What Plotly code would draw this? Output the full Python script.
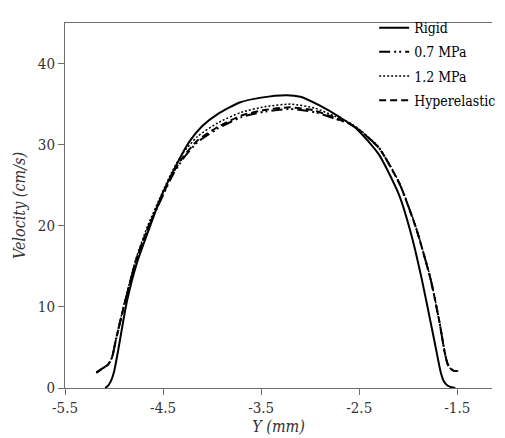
import plotly.graph_objects as go

# ---- data ----
rigid_x = [-5.09, -5.06, -5.03, -5.00, -4.96, -4.87, -4.77, -4.64, -4.53, -4.36, -4.23, -4.10,
           -3.94, -3.72, -3.50, -3.24, -3.10, -2.90, -2.70, -2.53, -2.30, -2.09, -1.96, -1.86,
           -1.77, -1.72, -1.67, -1.64, -1.60, -1.56, -1.52]
rigid_y = [0.0, 0.3, 0.9, 2.0, 4.5, 10.6, 15.3, 19.7, 23.3, 27.6, 30.4, 32.3,
           33.8, 35.2, 35.8, 36.1, 35.9, 34.8, 33.4, 32.0, 28.8, 23.7, 18.5, 13.3,
           8.0, 5.0, 2.0, 0.9, 0.3, 0.1, 0.0]

e07_x = [-5.18, -5.12, -5.06, -5.02, -4.98, -4.89, -4.78, -4.66, -4.53, -4.40, -4.30, -4.15,
         -3.94, -3.70, -3.45, -3.20, -2.95, -2.75, -2.60, -2.50, -2.30, -2.09, -1.92, -1.77,
         -1.68, -1.63, -1.60, -1.57, -1.53, -1.48]
e07_y = [1.9, 2.4, 2.9, 3.8, 6.0, 10.5, 15.5, 19.5, 23.0, 26.3, 28.2, 30.3,
         32.0, 33.4, 34.1, 34.4, 34.0, 33.2, 32.6, 31.8, 29.6, 25.2, 19.7, 13.3,
         8.0, 4.5, 3.0, 2.4, 2.1, 2.1]

e12_x = [-5.18, -5.12, -5.06, -5.02, -4.98, -4.89, -4.78, -4.66, -4.53, -4.40, -4.30, -4.15,
         -3.94, -3.70, -3.45, -3.20, -2.95, -2.75, -2.60, -2.50, -2.30, -2.09, -1.92, -1.77,
         -1.68, -1.63, -1.60, -1.57, -1.53, -1.48]
e12_y = [1.9, 2.4, 2.9, 3.8, 6.1, 10.7, 15.8, 19.9, 23.5, 26.9, 28.9, 31.0,
         32.7, 34.0, 34.7, 35.0, 34.5, 33.5, 32.7, 31.9, 29.7, 25.3, 19.8, 13.4,
         8.1, 4.6, 3.0, 2.4, 2.1, 2.1]

hyp_x = [-5.18, -5.12, -5.06, -5.02, -4.98, -4.89, -4.78, -4.66, -4.53, -4.40, -4.30, -4.15,
         -3.94, -3.70, -3.45, -3.20, -2.95, -2.75, -2.60, -2.50, -2.30, -2.09, -1.92, -1.77,
         -1.68, -1.63, -1.60, -1.57, -1.53, -1.48]
hyp_y = [1.9, 2.4, 2.9, 3.8, 6.0, 10.5, 15.6, 19.6, 23.1, 26.5, 28.4, 30.5,
         32.2, 33.6, 34.3, 34.6, 34.2, 33.3, 32.6, 31.8, 29.6, 25.2, 19.7, 13.3,
         8.0, 4.5, 3.0, 2.4, 2.1, 2.1]

series_names = ["Rigid", "0.7 MPa", "1.2 MPa", "Hyperelastic"]
x_ticks = [-5.5, -4.5, -3.5, -2.5, -1.5]
x_tick_labels = ["-5.5", "-4.5", "-3.5", "-2.5", "-1.5"]
y_ticks = [0, 10, 20, 30, 40]

FONT = "DejaVu Serif Condensed, DejaVu Serif"
AX = "#6e6e6e"

fig = go.Figure()
fig.add_trace(go.Scatter(x=rigid_x, y=rigid_y, mode="lines", name=series_names[0],
                         legendgroup="g1",
                         line=dict(color="black", width=2, shape="spline", smoothing=0.6)))
fig.add_trace(go.Scatter(x=e07_x, y=e07_y, mode="lines", name=series_names[1],
                         legendgroup="g2",
                         line=dict(color="black", width=2, dash="11px,4px,2px,3px,2px,4px",
                                   shape="spline", smoothing=0.6)))
fig.add_trace(go.Scatter(x=e12_x, y=e12_y, mode="lines", name=series_names[2],
                         legendgroup="g3",
                         line=dict(color="black", width=1.5, dash="2px,2px",
                                   shape="spline", smoothing=0.6)))
fig.add_trace(go.Scatter(x=hyp_x, y=hyp_y, mode="lines", name=series_names[3],
                         legendgroup="g4",
                         line=dict(color="black", width=2, dash="7px,4px",
                                   shape="spline", smoothing=0.6)))

# the page body keeps its default 8px margin, so the figure is 8px smaller
fig.update_layout(
    width=497, height=430,
    margin=dict(l=57, r=12, t=4, b=50),
    paper_bgcolor="white", plot_bgcolor="white",
    font=dict(family=FONT, size=15, color="#222"),
    showlegend=True,
    legend=dict(x=0.724, xanchor="left", y=1.03, yanchor="top",
                bgcolor="rgba(0,0,0,0)", borderwidth=0,
                font=dict(family=FONT, size=14, color="black"),
                traceorder="grouped", tracegroupgap=3),
    xaxis=dict(range=[-5.5, -1.146], tickvals=x_ticks, ticktext=x_tick_labels,
               showgrid=False, zeroline=False,
               showline=True, linecolor=AX, linewidth=1, mirror=True,
               ticks="outside", ticklen=6, tickcolor=AX,
               tickfont=dict(family=FONT, size=15, color="#333"),
               title=dict(text="<i>Y (mm)</i>", font=dict(family=FONT, size=16, color="#333"),
                          standoff=0)),
    yaxis=dict(range=[0, 45], tickvals=y_ticks,
               showgrid=False, zeroline=False,
               showline=True, linecolor=AX, linewidth=1,
               ticks="outside", ticklen=6, tickcolor=AX,
               tickfont=dict(family=FONT, size=15, color="#333"),
               title=dict(text="<i>Velocity (cm/s)</i>", font=dict(family=FONT, size=16, color="#333"),
                          standoff=8)),
)

fig.write_html("out.html")
